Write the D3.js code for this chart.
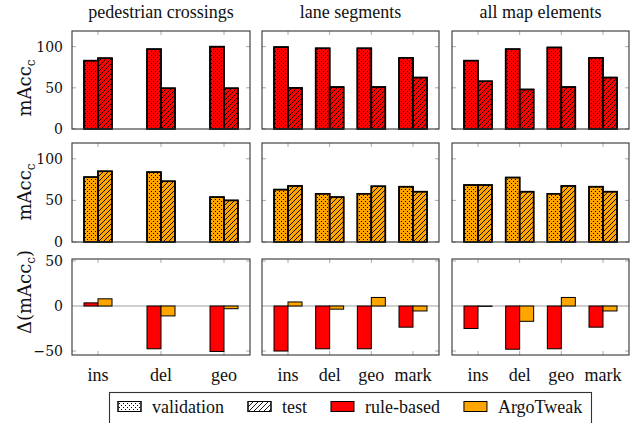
<!DOCTYPE html>
<html>
<head>
<meta charset="utf-8">
<script src="https://cdn.jsdelivr.net/npm/d3@7"></script>
<style>
  body { margin: 0; background: #fff; }
  text { fill: #111; }
  .serif { font-family: "Liberation Serif", "Times New Roman", serif; font-size: 18px; }
  .tick-label { font-family: "DejaVu Serif", serif; font-size: 14px; }
  .axis-title { font-family: "DejaVu Serif", serif; font-size: 18px; }
</style>
</head>
<body>
<div id="chart"></div>
<script>
// Panels and categories
const panelTitles = ['pedestrian crossings', 'lane segments', 'all map elements'];
const panelCategories = [
  ['ins', 'del', 'geo'],
  ['ins', 'del', 'geo', 'mark'],
  ['ins', 'del', 'geo', 'mark']
];

// mAcc_c, rule-based (top row)
const ruleValidation = [[83, 97, 100], [99.5, 98, 98, 86.5], [83, 97, 99, 86.5]];
const ruleTest = [[86, 49.5, 49.5], [50, 51, 51, 62.5], [58, 48, 51, 62.5]];

// mAcc_c, ArgoTweak (middle row)
const argoValidation = [[78, 84, 54], [63, 58, 58, 66.5], [68.5, 77.5, 58, 66.5]];
const argoTest = [[85, 73, 50], [67.5, 54, 67, 60.5], [68.5, 60.5, 67.5, 60.5]];

// Delta (test - validation), bottom row
const ruleDelta = [[3.5, -47.5, -50.5], [-50, -47.5, -47.5, -23.5], [-25, -48, -47.5, -23.5]];
const argoDelta = [[8, -11, -3], [4.5, -3.5, 9.5, -5.5], [-0.4, -17, 9.5, -5.5]];

const accTicks = [0, 50, 100];
const deltaTicks = [-50, 0, 50];
const legendLabels = ['validation', 'test', 'rule-based', 'ArgoTweak'];

const red = '#ff0000';
const orange = '#ffa500';

const width = 636;
const height = 423;
const svg = d3.select('#chart')
  .append('svg')
    .attr('width', width)
    .attr('height', height);

// Fill patterns: dots for validation, north-east lines for test
const defs = svg.append('defs');
const dots = defs.append('pattern')
    .attr('id', 'dots')
    .attr('patternUnits', 'userSpaceOnUse')
    .attr('width', 4)
    .attr('height', 4);
dots.append('rect').attr('x', 1).attr('y', 1).attr('width', 1).attr('height', 1).attr('fill', '#000');
dots.append('rect').attr('x', 3).attr('y', 3).attr('width', 1).attr('height', 1).attr('fill', '#000');

const hatch = defs.append('pattern')
    .attr('id', 'hatch')
    .attr('patternUnits', 'userSpaceOnUse')
    .attr('width', 5)
    .attr('height', 5);
hatch.append('path')
    .attr('d', 'M0,5 L5,0 M-1,1 L1,-1 M4,6 L6,4')
    .attr('stroke', '#000')
    .attr('stroke-width', 0.9);

// Layout of the 3x3 grid
const cols = [[72, 250], [262, 439], [452, 629]];
const rows = [
  { top: 31, bottom: 129, domain: [0, 119], ticks: accTicks },
  { top: 143, bottom: 242, domain: [0, 119], ticks: accTicks },
  { top: 259, bottom: 355, domain: [-54.4, 52.2], ticks: deltaTicks }
];
const barWidth = 14;
const xPad = 26;
const tickLen = 4;

function drawPanel(rowIdx, colIdx, seriesA, seriesB) {
  const row = rows[rowIdx];
  const [left, right] = cols[colIdx];
  const cats = panelCategories[colIdx];
  const x = d3.scalePoint().domain(cats).range([left + xPad, right - xPad]);
  const y = d3.scaleLinear().domain(row.domain).range([row.bottom, row.top]);
  const g = svg.append('g');

  // inner ticks on all four sides
  g.selectAll('.xt')
    .data(cats)
    .join('path')
      .attr('class', 'xt')
      .attr('d', d => `M${x(d)},${row.bottom}v${-tickLen}M${x(d)},${row.top}v${tickLen}`)
      .attr('stroke', '#aaa');
  g.selectAll('.yt')
    .data(row.ticks)
    .join('path')
      .attr('class', 'yt')
      .attr('d', d => `M${left},${y(d)}h${tickLen}M${right},${y(d)}h${-tickLen}`)
      .attr('stroke', '#aaa');

  // zero line for the delta row
  if (rowIdx === 2) {
    g.append('line')
      .attr('x1', left).attr('x2', right)
      .attr('y1', y(0)).attr('y2', y(0))
      .attr('stroke', '#cfcfcf')
      .attr('stroke-width', 2);
  }

  const bars = [
    { values: seriesA, offset: -barWidth },
    { values: seriesB, offset: 0 }
  ];
  bars.forEach((s, si) => {
    const data = cats.map((c, i) => ({ cat: c, value: s.values[i] }));
    const color = rowIdx === 0 ? red : rowIdx === 1 ? orange : (si === 0 ? red : orange);
    const rectY = d => Math.min(y(d.value), y(0));
    const rectH = d => Math.abs(y(d.value) - y(0));
    g.selectAll(`.bar-${si}`)
      .data(data)
      .join('rect')
        .attr('class', `bar-${si}`)
        .attr('x', d => x(d.cat) + s.offset)
        .attr('y', rectY)
        .attr('width', barWidth)
        .attr('height', rectH)
        .attr('fill', color)
        .attr('stroke', '#000')
        .attr('stroke-width', rowIdx === 2 ? 1 : 1.5);
    if (rowIdx < 2) {
      g.selectAll(`.pat-${si}`)
        .data(data)
        .join('rect')
          .attr('class', `pat-${si}`)
          .attr('x', d => x(d.cat) + s.offset)
          .attr('y', rectY)
          .attr('width', barWidth)
          .attr('height', rectH)
          .attr('fill', si === 0 ? 'url(#dots)' : 'url(#hatch)')
          .attr('stroke', '#000')
          .attr('stroke-width', 1.5);
    }
  });

  // frame
  g.append('rect')
    .attr('x', left).attr('y', row.top)
    .attr('width', right - left).attr('height', row.bottom - row.top)
    .attr('fill', 'none')
    .attr('stroke', '#333')
    .attr('stroke-width', 1.1);

  // y tick labels on the first column
  if (colIdx === 0) {
    g.selectAll('.ytl')
      .data(row.ticks)
      .join('text')
        .attr('class', 'tick-label')
        .attr('x', left - 9)
        .attr('y', d => y(d))
        .attr('dy', '0.35em')
        .attr('text-anchor', 'end')
        .text(d => d < 0 ? '\u2212' + Math.abs(d) : d);
  }

  // category labels under the bottom row
  if (rowIdx === 2) {
    g.selectAll('.xtl')
      .data(cats)
      .join('text')
        .attr('class', 'serif')
        .attr('x', d => x(d))
        .attr('y', 381)
        .attr('text-anchor', 'middle')
        .text(d => d);
  }

  // panel titles above the top row
  if (rowIdx === 0) {
    g.append('text')
      .attr('class', 'serif')
      .attr('x', (left + right) / 2)
      .attr('y', 18)
      .attr('text-anchor', 'middle')
      .text(panelTitles[colIdx]);
  }
}

for (let c = 0; c < 3; c++) {
  drawPanel(0, c, ruleValidation[c], ruleTest[c]);
  drawPanel(1, c, argoValidation[c], argoTest[c]);
  drawPanel(2, c, ruleDelta[c], argoDelta[c]);
}

// Y axis titles
function yTitle(cy, delta) {
  const t = svg.append('text')
    .attr('class', 'axis-title')
    .attr('transform', `translate(31,${cy}) rotate(-90)`)
    .attr('text-anchor', 'middle');
  t.append('tspan').text(delta ? '\u0394(mAcc' : 'mAcc');
  t.append('tspan').attr('dy', 4).attr('font-size', 12).text('c');
  if (delta) t.append('tspan').attr('dy', -4).text(')');
}
yTitle(88, false);
yTitle(192, false);
yTitle(292, true);

// Legend
const legend = svg.append('g');
legend.append('rect')
  .attr('x', 109.5).attr('y', 392.5)
  .attr('width', 482).attr('height', 40)
  .attr('fill', '#fff')
  .attr('stroke', '#333')
  .attr('stroke-width', 1.1);
const swatchFills = [['#fff', 'url(#dots)'], ['#fff', 'url(#hatch)'], [red, null], [orange, null]];
let lx = 118;
legendLabels.forEach((label, i) => {
  legend.append('rect')
    .attr('x', lx).attr('y', 401.5)
    .attr('width', 23).attr('height', 10)
    .attr('fill', swatchFills[i][0])
    .attr('stroke', '#000');
  if (swatchFills[i][1]) {
    legend.append('rect')
      .attr('x', lx).attr('y', 401.5)
      .attr('width', 23).attr('height', 10)
      .attr('fill', swatchFills[i][1])
      .attr('stroke', '#000');
  }
  const t = legend.append('text')
    .attr('class', 'serif')
    .attr('x', lx + 34)
    .attr('y', 413)
    .text(label);
  lx += 34 + t.node().getComputedTextLength() + 24;
});
</script>
</body>
</html>
